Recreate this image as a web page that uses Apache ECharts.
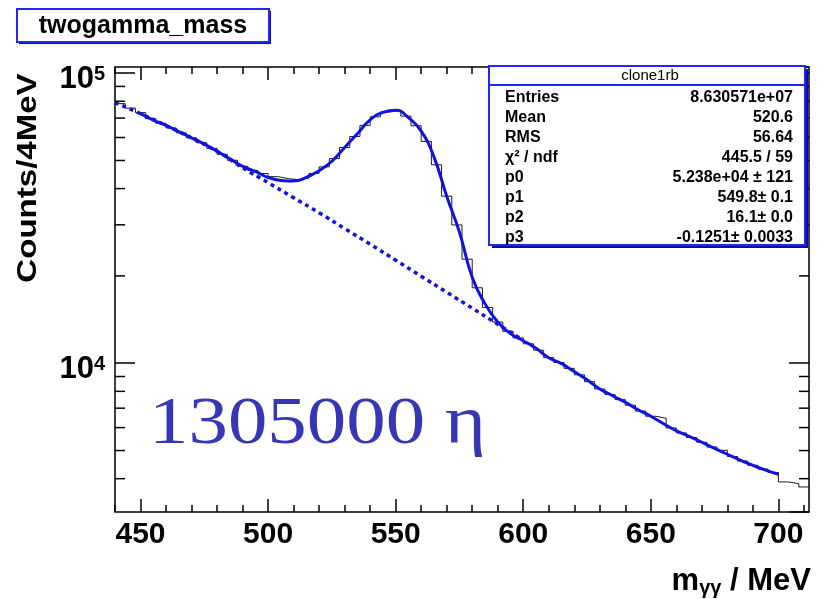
<!DOCTYPE html>
<html>
<head>
<meta charset="utf-8">
<title>twogamma_mass</title>
<script src="https://cdn.jsdelivr.net/npm/echarts@6/dist/echarts.min.js"></script>
<style>
html, body { margin: 0; padding: 0; background: #ffffff; }
#main { width: 827px; height: 599px; }
</style>
</head>
<body>
<div id="main"></div>
<script>
// axis ranges
var xMin = 440;
var xMax = 712;
var yMin = 3070;
var yMax = 105000;

// histogram: 4 MeV bins (lower edges) and counts
var binEdges = [440, 444, 448, 452, 456, 460, 464, 468, 472, 476,
    480, 484, 488, 492, 496, 500, 504, 508, 512, 516,
    520, 524, 528, 532, 536, 540, 544, 548, 552, 556,
    560, 564, 568, 572, 576, 580, 584, 588, 592, 596,
    600, 604, 608, 612, 616, 620, 624, 628, 632, 636,
    640, 644, 648, 652, 656, 660, 664, 668, 672, 676,
    680, 684, 688, 692, 696, 700, 704, 708];
var binCounts = [78500, 75750, 73100, 69650, 67200, 64710, 62250, 59830, 57540, 55040,
    52520, 50080, 47750, 46180, 45090, 43960, 43270, 42930, 43480, 45120,
    47520, 50800, 55430, 60490, 66070, 70690, 73500, 74560, 71080, 65860,
    58140, 48320, 37660, 29970, 22840, 18200, 15570, 13870, 12880, 12220,
    11670, 11090, 10450, 10060, 9600, 9120, 8640, 8150, 7806, 7490,
    7164, 6841, 6564, 6461, 5982, 5749, 5547, 5340, 5140, 5010,
    4769, 4600, 4448, 4316, 4198, 3897, 3842, 3745];

// total fit (gaus + background)
var fitMass = [450, 455, 460, 465, 470, 475, 480, 485, 490, 495,
    500, 505, 510, 515, 520, 525, 530, 535, 540, 545,
    550, 555, 560, 565, 570, 575, 580, 585, 590, 595,
    600, 605, 610, 615, 620, 625, 630, 635, 640, 645,
    650, 655, 660, 665, 670, 675, 680, 685, 690, 695, 700];
var fitValues = [72500, 68900, 66000, 62850, 59820, 57000, 53790, 50680, 47750, 45810,
    43680, 42680, 42490, 43720, 46100, 49690, 55430, 61860, 69020, 73260,
    74560, 70260, 63100, 51450, 37660, 28300, 19800, 16040, 13870, 12650,
    11960, 11260, 10450, 9970, 9360, 8765, 8150, 7725, 7335, 6913,
    6566, 6186, 5850, 5600, 5340, 5090, 4855, 4636, 4448, 4282, 4142];

// background only (dotted)
var bgMass = [440, 450, 460, 470, 480, 490, 500, 510, 520, 530, 540, 550, 560, 570, 580, 590, 600];
var bgValues = [79130, 72500, 66000, 59830, 53790, 47220, 41930, 37210, 33030, 29140,
    25730, 22660, 19950, 17570, 15480, 13630, 12000];

// ticks
var xTickLabels = [450, 500, 550, 600, 650, 700];
var xMinorTicks = [440, 460, 470, 480, 490, 510, 520, 530, 540, 560, 570, 580, 590,
    610, 620, 630, 640, 660, 670, 680, 690, 710];
var yMinorTicks = [4000, 5000, 6000, 7000, 8000, 9000,
    20000, 30000, 40000, 50000, 60000, 70000, 80000, 90000];

// stats box
var statLabels = ['Entries', 'Mean', 'RMS', 'χ² / ndf', 'p0', 'p1', 'p2', 'p3'];
var statValues = ['8.630571e+07', '520.6', '56.64', '445.5 / 59', '5.238e+04 ± 121',
    '549.8± 0.1', '16.1± 0.0', '-0.1251± 0.0033'];

var FONT = 'Liberation Sans, Arial, Helvetica, sans-serif';
var BLUE = '#1212e0';
var BOX_BLUE = '#2424ff';
var SHADOW_BLUE = '#0c0ca8';

function textWidth(text, font) {
    var ctx = document.createElement('canvas').getContext('2d');
    ctx.font = font;
    return ctx.measureText(text).width;
}

function xAxisCfg(pos, ticks, len, labels) {
    return {
        type: 'value',
        position: pos,
        min: xMin,
        max: xMax,
        axisLine: { show: false },
        splitLine: { show: false },
        axisTick: {
            show: true,
            inside: true,
            length: len,
            customValues: ticks,
            lineStyle: { color: '#000', width: 1.5 }
        },
        axisLabel: labels ? {
            show: true,
            customValues: ticks,
            margin: 8,
            color: '#000',
            fontFamily: FONT,
            fontWeight: 'bold',
            fontSize: 30
        } : { show: false }
    };
}

function yAxisCfg(pos, labels) {
    return {
        type: 'log',
        logBase: 10,
        position: pos,
        min: yMin,
        max: yMax,
        axisLine: { show: false },
        splitLine: { show: false },
        minorTick: { show: false },
        axisTick: {
            show: true,
            inside: true,
            length: 20,
            lineStyle: { color: '#000', width: 1.5 }
        },
        axisLabel: labels ? {
            show: true,
            margin: 10,
            padding: [16, 0, 0, 0],
            showMinLabel: false,
            showMaxLabel: false,
            formatter: function (v) {
                var e = Math.round(Math.log(v) / Math.LN10);
                if (Math.abs(Math.pow(10, e) - v) / v > 1e-6) {
                    return '';
                }
                return '{b|10}{s|' + e + '}';
            },
            rich: {
                b: { fontFamily: FONT, fontWeight: 'bold', fontSize: 31, color: '#000', lineHeight: 34, verticalAlign: 'top' },
                s: { fontFamily: FONT, fontWeight: 'bold', fontSize: 20, color: '#000', lineHeight: 22, verticalAlign: 'top' }
            }
        } : { show: false }
    };
}

function statsGraphic() {
    var left = 489, top = 66, w = 316, h = 179;
    var items = [
        { type: 'rect', shape: { x: left + 3, y: top + 3, width: w, height: h }, style: { fill: SHADOW_BLUE }, z: 100 },
        { type: 'rect', shape: { x: left, y: top, width: w, height: h }, style: { fill: '#fff', stroke: BOX_BLUE, lineWidth: 2 }, z: 101 },
        { type: 'line', shape: { x1: left, y1: top + 19, x2: left + w, y2: top + 19 }, style: { stroke: BOX_BLUE, lineWidth: 2 }, z: 102 },
        { type: 'text', x: left + w / 2 + 3, y: top + 10, z: 102,
            style: { text: 'clone1rb', fontFamily: FONT, fontSize: 15, fill: '#000', align: 'center', verticalAlign: 'middle' } }
    ];
    for (var i = 0; i < statLabels.length; i++) {
        var yy = top + 32 + i * 19.9;
        items.push({ type: 'text', x: left + 16, y: yy, z: 102,
            style: { text: statLabels[i], fontFamily: FONT, fontWeight: 'bold', fontSize: 16, fill: '#000', align: 'left', verticalAlign: 'middle' } });
        items.push({ type: 'text', x: left + w - 12, y: yy, z: 102,
            style: { text: statValues[i], fontFamily: FONT, fontWeight: 'bold', fontSize: 16, fill: '#000', align: 'right', verticalAlign: 'middle' } });
    }
    return items;
}

// x title "m_γγ / MeV", subscript placed by hand
function xTitleGraphic() {
    var right = 811;
    var big = 'bold 31px Liberation Sans';
    var small = 'bold 20px Liberation Sans';
    var tailW = textWidth(' / MeV', big);
    var subW = textWidth('γγ', small);
    var st = function (t, size) {
        return { text: t, fontFamily: FONT, fontWeight: 'bold', fontSize: size, fill: '#000', align: 'left', verticalAlign: 'middle' };
    };
    return [
        { type: 'text', x: right - tailW, y: 581, z: 102, style: st(' / MeV', 31) },
        { type: 'text', x: right - tailW - subW, y: 588, z: 102, style: st('γγ', 20) },
        { type: 'text', x: right - tailW - subW - textWidth('m', big), y: 581, z: 102, style: st('m', 31) }
    ];
}

function drawChart() {
    var myChart = echarts.init(document.getElementById('main'), null, { renderer: 'canvas' });

    var histData = binEdges.map(function (e, i) { return [e, binCounts[i]]; });
    histData.push([xMax, binCounts[binCounts.length - 1]]);

    var option = {
        backgroundColor: '#ffffff',
        animation: false,
        grid: {
            left: 115, right: 18, top: 67, bottom: 87,
            show: true,
            borderColor: '#000',
            borderWidth: 1.5,
            backgroundColor: 'transparent'
        },
        xAxis: [
            xAxisCfg('bottom', xTickLabels, 13, true),
            xAxisCfg('bottom', xMinorTicks, 7, false),
            xAxisCfg('top', xTickLabels, 13, false),
            xAxisCfg('top', xMinorTicks, 7, false)
        ],
        yAxis: [
            yAxisCfg('left', true),
            yAxisCfg('right', false)
        ],
        series: [
            {
                name: 'clone1rb',
                type: 'line',
                step: 'end',
                xAxisIndex: 0,
                yAxisIndex: 0,
                symbol: 'none',
                silent: true,
                lineStyle: { color: '#1a1a1a', width: 1 },
                data: histData,
                z: 2
            },
            {
                name: 'background',
                type: 'line',
                xAxisIndex: 0,
                yAxisIndex: 0,
                symbol: 'none',
                silent: true,
                smooth: true,
                lineStyle: { color: BLUE, width: 3.5, type: [4, 4] },
                data: bgMass.map(function (m, i) { return [m, bgValues[i]]; }),
                z: 3
            },
            {
                name: 'fit',
                type: 'line',
                xAxisIndex: 0,
                yAxisIndex: 0,
                symbol: 'none',
                silent: true,
                smooth: true,
                lineStyle: { color: BLUE, width: 3 },
                data: fitMass.map(function (m, i) { return [m, fitValues[i]]; }),
                z: 4
            },
            {
                // minor ticks of the log axis, both sides of the frame
                name: 'yMinor',
                type: 'custom',
                xAxisIndex: 0,
                yAxisIndex: 0,
                silent: true,
                clip: false,
                data: yMinorTicks.map(function (v) { return [xMin, v]; }),
                renderItem: function (params, api) {
                    var l = api.coord([xMin, api.value(1)]);
                    var r = api.coord([xMax, api.value(1)]);
                    var st = { stroke: '#000', lineWidth: 1.5 };
                    return {
                        type: 'group',
                        children: [
                            { type: 'line', shape: { x1: l[0], y1: l[1], x2: l[0] + 10, y2: l[1] }, style: st },
                            { type: 'line', shape: { x1: r[0], y1: r[1], x2: r[0] - 10, y2: r[1] }, style: st }
                        ]
                    };
                },
                z: 5
            }
        ],
        graphic: [
            // title box
            { type: 'rect', shape: { x: 19, y: 11, width: 252, height: 33 }, style: { fill: SHADOW_BLUE }, z: 100 },
            { type: 'rect', shape: { x: 17, y: 9, width: 252, height: 33 }, style: { fill: '#fff', stroke: BOX_BLUE, lineWidth: 2 }, z: 101 },
            { type: 'text', x: 143, y: 26, z: 102,
                style: { text: 'twogamma_mass', fontFamily: FONT, fontWeight: 'bold', fontSize: 25, fill: '#000', align: 'center', verticalAlign: 'middle' } },
            // y title
            { type: 'text', x: 28, y: 178, rotation: Math.PI / 2, scaleX: 1.18, z: 102,
                style: { text: 'Counts/4MeV', fontFamily: FONT, fontWeight: 'bold', fontSize: 28, fill: '#000', align: 'center', verticalAlign: 'middle' } },
            // event count label
            { type: 'text', x: 149, y: 425, scaleX: 1.16, z: 102,
                style: { text: '1305000 η', fontFamily: 'Liberation Serif, Times New Roman, serif', fontSize: 68, fill: '#3636b6', align: 'left', verticalAlign: 'middle' } }
        ].concat(xTitleGraphic()).concat(statsGraphic())
    };

    myChart.setOption(option);
}

drawChart();
</script>
</body>
</html>
